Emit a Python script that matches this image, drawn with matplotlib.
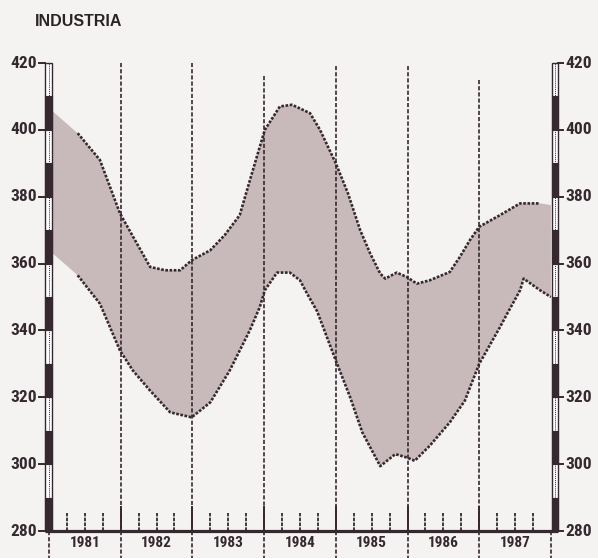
import matplotlib
matplotlib.use("Agg")
import matplotlib.pyplot as plt
import matplotlib.patches as pat
from matplotlib import font_manager

# datos
years = [1981, 1982, 1983, 1984, 1985, 1986, 1987]
y_ticks = [280, 300, 320, 340, 360, 380, 400, 420]
title = "INDUSTRIA"

# borde superior de la banda
upper_x = [1981.00, 1981.40, 1981.71, 1981.99, 1982.20, 1982.41, 1982.62, 1982.83,
           1982.99, 1983.25, 1983.45, 1983.66, 1983.83, 1984.01, 1984.22, 1984.39,
           1984.64, 1984.78, 1985.00, 1985.17, 1985.34, 1985.48, 1985.62, 1985.69,
           1985.85, 1985.99, 1986.13, 1986.31, 1986.59, 1986.73, 1986.87, 1987.00,
           1987.29, 1987.57, 1987.85, 1988.00]
upper_y = [406.5, 399, 391, 375, 367, 359, 358, 358,
           361, 364, 368.5, 374.5, 387, 400, 407, 407.5,
           405, 400, 390, 381, 370, 363, 357, 355.5,
           357.3, 356, 354, 355, 357.5, 362, 367, 371,
           374.5, 378, 378, 377.5]

# borde inferior de la banda
lower_x = [1981.00, 1981.40, 1981.71, 1981.99, 1982.17, 1982.41, 1982.69, 1982.99,
           1983.25, 1983.52, 1983.80, 1983.94, 1984.01, 1984.18, 1984.36, 1984.50,
           1984.60, 1984.74, 1985.00, 1985.20, 1985.37, 1985.62, 1985.83, 1985.99,
           1986.10, 1986.31, 1986.59, 1986.80, 1987.00, 1987.29, 1987.39, 1987.57,
           1987.62, 1987.85, 1988.00]
lower_y = [364, 356.5, 348, 334, 328, 322, 315.5, 314,
           318.5, 328, 340, 347, 352, 357.3, 357.3, 355,
           351, 345.7, 331, 320, 309.5, 299.4, 303, 302,
           301, 305.5, 312.5, 319, 330, 341, 345, 352,
           355.5, 352, 350]

# escala en pixeles de la imagen
PX_X0 = 49.0      # pixel de 1981
PX_YEAR = 71.7    # pixeles por anyo
PX_Y420 = 63.0    # pixel de 420
PX_UNIT = 3.343   # pixeles por unidad
W, H = 598, 558


def px2x(px):
    return 1981 + (px - PX_X0) / PX_YEAR


def px2y(py):
    return 420 - (py - PX_Y420) / PX_UNIT


names = {f.name for f in font_manager.fontManager.ttflist}
narrow = next((n for n in ["Liberation Sans Narrow", "Roboto Condensed"] if n in names),
              "DejaVu Sans Mono")

ink = "#35292f"
band = "#c8babb"
paper = "#f4f3f1"

fig = plt.figure(figsize=(W / 100, H / 100), dpi=100)
fig.patch.set_facecolor(paper)
ax = fig.add_axes([0, 0, 1, 1])
ax.set_xlim(px2x(0), px2x(W))
ax.set_ylim(px2y(H), px2y(0))
ax.axis("off")

# banda sombreada
ax.fill(upper_x + lower_x[::-1], upper_y + lower_y[::-1], color=band, lw=0, zorder=1)

# lineas punteadas de los bordes
ux = [x for x in upper_x if 1981.38 <= x <= 1987.86]
uy = [y for x, y in zip(upper_x, upper_y) if 1981.38 <= x <= 1987.86]
lx = [x for x in lower_x if x >= 1981.38]
ly = [y for x, y in zip(lower_x, lower_y) if x >= 1981.38]
ax.plot(ux, uy, color=ink, lw=1.9, ls=(0, (1, 0.6)), zorder=3)
ax.plot(lx, ly, color=ink, lw=1.9, ls=(0, (1, 0.6)), zorder=3)

# lineas verticales de separacion de anyos
grid_top = [420, 420, 416, 419, 419, 415]
for yr, top in zip(years[1:], grid_top):
    ax.plot([yr, yr], [top, 281], color=ink, lw=1.2, ls=(0, (2.5, 1.2)), zorder=2)
for yr in years + [1988]:
    ax.plot([yr, yr], [280, px2y(H)], color=ink, lw=1.2, ls=(0, (2.5, 1.2)), zorder=2)
    if 1981 < yr < 1988:
        ax.plot([yr, yr], [280, px2y(507)], color=ink, lw=1.4, zorder=3)

# marcas de trimestre
for yr in years:
    for q in (0.25, 0.5, 0.75):
        ax.plot([yr + q, yr + q], [280, px2y(513)], color=ink, lw=1.3, ls=(0, (2, 0.7)), zorder=3)

# eje horizontal
ax.plot([px2x(45), px2x(558)], [280, 280], color=ink, lw=2.3, zorder=4, solid_capstyle="butt")

# barras de escala a izquierda y derecha
for bx0, bx1, tx0, tx1, lx_, ha in [(45, 52, 39, 45, 37, "right"),
                                     (552, 558, 558, 563, 565, "left")]:
    x0, x1 = px2x(bx0), px2x(bx1)
    ax.add_patch(pat.Rectangle((x0, 280), x1 - x0, 140, facecolor="white",
                               edgecolor=ink, lw=1.0, zorder=4))
    for v in range(280, 420, 20):
        ax.add_patch(pat.Rectangle((x0, v), x1 - x0, 10, facecolor=ink,
                                   edgecolor=ink, lw=0.8, zorder=5))
    xm = (x0 + x1) / 2
    ax.plot([xm, xm], [280, 420], color=ink, lw=0.7, ls=(0, (1, 1)), zorder=5)
    for v in y_ticks:
        ax.plot([px2x(tx0), px2x(tx1)], [v, v], color=ink, lw=1.4, zorder=5)
        ax.text(px2x(lx_), v, str(v), ha=ha, va="center", color=ink,
                fontsize=12.5, fontweight="bold", family=[narrow, "DejaVu Sans"], zorder=6)

# etiquetas de los anyos
for yr in years:
    ax.text(yr + 0.5, px2y(543), str(yr), ha="center", va="center", color=ink,
            fontsize=11, fontweight="bold", family=[narrow, "DejaVu Sans"])

# titulo
ax.text(px2x(35), px2y(21), title, ha="left", va="center", color="#2b2427",
        fontsize=11.5, fontweight="bold", family=["Liberation Sans", "DejaVu Sans"])

fig.savefig("out.png", dpi=100, facecolor=paper)
